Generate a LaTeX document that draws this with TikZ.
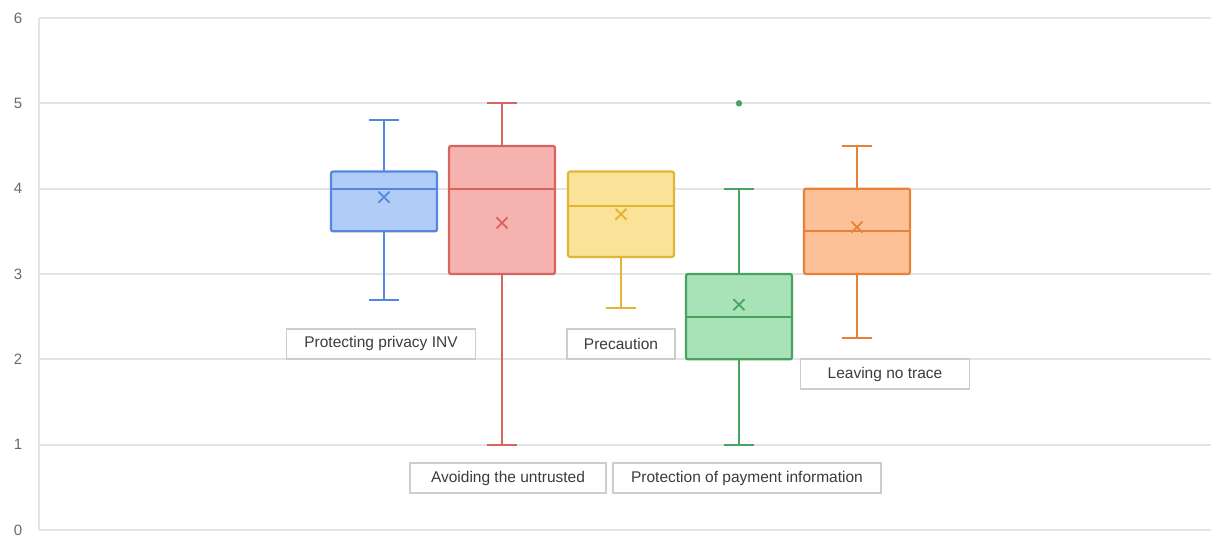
\documentclass[tikz,border=0pt]{standalone}
\usepackage{fontspec}
\setmainfont{Liberation Sans}
\usetikzlibrary{positioning}
\definecolor{gridGray}{RGB}{228,228,228}
\definecolor{tickGray}{RGB}{105,105,105}
\definecolor{tagGray}{RGB}{205,205,205}
\definecolor{tagText}{RGB}{60,60,60}
\definecolor{privBlue}{RGB}{85,135,222}
\definecolor{privBlueL}{RGB}{178,204,248}
\definecolor{avoidRed}{RGB}{214,100,96}
\definecolor{avoidRedL}{RGB}{245,178,174}
\definecolor{precYellow}{RGB}{226,182,52}
\definecolor{precYellowL}{RGB}{250,227,152}
\definecolor{payGreen}{RGB}{72,162,96}
\definecolor{payGreenL}{RGB}{168,227,183}
\definecolor{traceOrange}{RGB}{232,130,58}
\definecolor{traceOrangeL}{RGB}{252,193,150}

\begin{document}
\begin{tikzpicture}[
    x=1pt, y=85.33pt,
    gridline/.style={gridGray, line width=1.8pt},
    tick/.style={font=\fontsize{15}{17}\selectfont, text=tickGray},
    tag/.style={draw=tagGray, fill=white, line width=1.2pt, minimum height=30pt,
                inner sep=0pt, font=\fontsize{15.5}{18}\selectfont, text=tagText},
    whisk/.style={line width=1.9pt},
]
\useasboundingbox (0,-0.0703) rectangle (1211,6.211);

% grid and axis
\foreach \v in {0,...,6} {
  \draw[gridline] (39,\v) -- (1211,\v);
  \node[tick] (t\v) at (18,\v) {\v};
}
\draw[gridline] (39,0) -- (39,6);

% boxes: centre/low/q1/median/q3/high/mean/line/fill
\foreach \c/\lo/\qa/\md/\qb/\hi/\mn/\ln/\fl in {
    384/2.7/3.5/4.0/4.2/4.8/3.9/privBlue/privBlueL,
    502/1.0/3.0/4.0/4.5/5.0/3.6/avoidRed/avoidRedL,
    621/2.6/3.2/3.8/4.2/4.2/3.7/precYellow/precYellowL,
    739/1.0/2.0/2.5/3.0/4.0/2.64/payGreen/payGreenL,
    857/2.25/3.0/3.5/4.0/4.5/3.55/traceOrange/traceOrangeL} {
  \draw[\ln, whisk] (\c,\lo) -- (\c,\qa) (\c,\qb) -- (\c,\hi)
    (\c-15,\lo) -- (\c+15,\lo) (\c-15,\hi) -- (\c+15,\hi);
  \draw[\ln, fill=\fl, line width=2.2pt, rounded corners=2pt]
    (\c-53,\qa) rectangle (\c+53,\qb);
  \draw[\ln, line width=2.2pt] (\c-53,\md) -- (\c+53,\md);
  \draw[\ln, line width=1.8pt] (\c,\mn) ++(-5.5pt,-5.5pt) -- ++(11pt,11pt)
    (\c,\mn) ++(-5.5pt,5.5pt) -- ++(11pt,-11pt);
}
\fill[payGreen] (739,5) circle (3.2pt);

% labels
\node[tag, minimum width=189pt] (tagPriv) at (381,2.18) {Protecting privacy INV};
\node[tag, minimum width=108pt] (tagPrec) at (621,2.18) {Precaution};
\node[tag, minimum width=169pt] (tagTrace) at (885,1.828) {Leaving no trace};
\node[tag, minimum width=196pt] (tagAvoid) at (508,0.609) {Avoiding the untrusted};
\node[tag, minimum width=268pt] (tagPay) at (747,0.609) {Protection of payment information};
\end{tikzpicture}
\end{document}
